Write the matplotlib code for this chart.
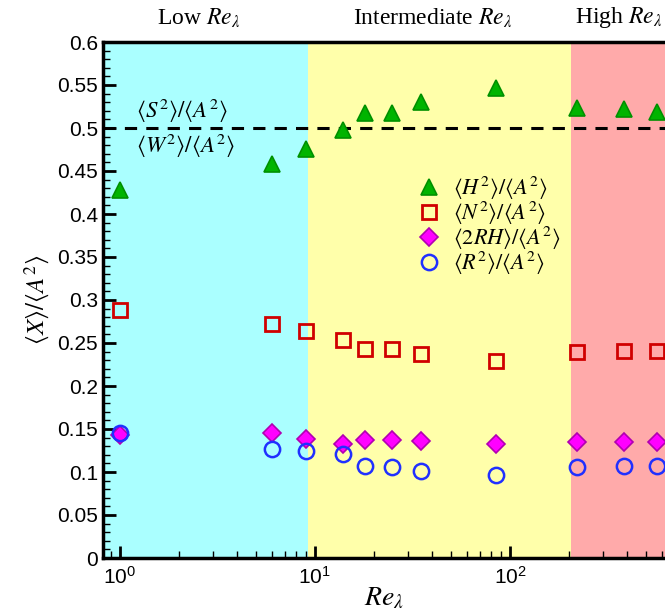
import matplotlib
matplotlib.use("Agg")
import matplotlib.pyplot as plt
from matplotlib.ticker import MultipleLocator, LogLocator, NullFormatter

plt.rcParams['mathtext.fontset'] = 'stix'
plt.rcParams['font.family'] = 'Liberation Sans'

re_lam = [1, 6, 9, 14, 18, 25, 35, 85, 220, 385, 570]
h2 = [0.428, 0.458, 0.476, 0.498, 0.517, 0.517, 0.530, 0.547, 0.523, 0.522, 0.519]
n2 = [0.288, 0.272, 0.264, 0.253, 0.243, 0.243, 0.237, 0.229, 0.240, 0.241, 0.241]
rh2 = [0.143, 0.145, 0.138, 0.132, 0.137, 0.137, 0.136, 0.132, 0.135, 0.135, 0.135]
r2 = [0.145, 0.127, 0.125, 0.121, 0.107, 0.106, 0.101, 0.097, 0.106, 0.107, 0.107]

regions = [(0.5, 9.2, '#aaffff'), (9.2, 205, '#ffffaa'), (205, 2000, '#ffaaaa')]
region_labels = [(2.55, 'Low $Re_\\lambda$'), (40, 'Intermediate $Re_\\lambda$'), (360, 'High $Re_\\lambda$')]

fig = plt.figure(figsize=(6.65, 6.11), dpi=100)
ax = fig.add_axes([103/665, 1-558/611, 1-103/665, (558-42)/611])

for lo, hi, c in regions:
    ax.axvspan(lo, hi, color=c, zorder=0, lw=0)

ax.axhline(0.5, color='black', ls=(0, (4, 3)), lw=2.2, zorder=1)
ax.text(1.21, 0.504, r'$\langle S^2\rangle/\langle A^2\rangle$', fontsize=16.5, va='bottom')
ax.text(1.21, 0.496, r'$\langle W^2\rangle/\langle A^2\rangle$', fontsize=16.5, va='top')

ms = 10
ax.plot(re_lam, h2, ls='none', marker='^', ms=ms + 1, mfc='#00b400', mec='#009000', mew=1.2,
        label=r'$\langle H^2\rangle/\langle A^2\rangle$', zorder=3)
ax.plot(re_lam, n2, ls='none', marker='s', ms=ms, mfc='none', mec='#d00000', mew=2,
        label=r'$\langle N^2\rangle/\langle A^2\rangle$', zorder=3)
ax.plot(re_lam, rh2, ls='none', marker='D', ms=ms - 1, mfc='#ff00ff', mec='#b000b0', mew=1.2,
        label=r'$\langle 2RH\rangle/\langle A^2\rangle$', zorder=3)
ax.plot(re_lam, r2, ls='none', marker='o', ms=ms + 1, mfc='none', mec='#2030ff', mew=1.8,
        label=r'$\langle R^2\rangle/\langle A^2\rangle$', zorder=4)

ax.set_xscale('log')
ax.set_xlim(0.82, 624)
ax.set_ylim(0, 0.6)
ax.yaxis.set_major_locator(MultipleLocator(0.05))
ax.yaxis.set_minor_locator(MultipleLocator(0.01))
ax.yaxis.set_major_formatter(plt.FuncFormatter(lambda v, p: ('%g' % round(v, 3))))
ax.xaxis.set_minor_locator(LogLocator(base=10, subs=range(2, 10)))
ax.xaxis.set_minor_formatter(NullFormatter())
ax.tick_params(which='major', direction='in', length=9, width=2, labelsize=15, top=False, right=False)
ax.tick_params(which='minor', direction='in', length=5, width=1)
ax.tick_params(axis='x', pad=6)

for s in ['left', 'bottom', 'top']:
    ax.spines[s].set_linewidth(2.5)
ax.spines['right'].set_visible(False)

for x, t in region_labels:
    ax.text(x, 0.614, t, fontsize=17, family='Liberation Serif', ha='center', va='bottom')

ax.set_xlabel(r'$Re_\lambda$', fontsize=20, labelpad=-2)
ax.set_ylabel(r'$\langle X\rangle/\langle A^2\rangle$', fontsize=18, labelpad=4)

ax.legend(loc='upper left', bbox_to_anchor=(0.53, 0.765), frameon=False, fontsize=16,
          handletextpad=0.35, labelspacing=-0.1, borderpad=0, handlelength=1.5)

fig.savefig('out.png', dpi=100)
